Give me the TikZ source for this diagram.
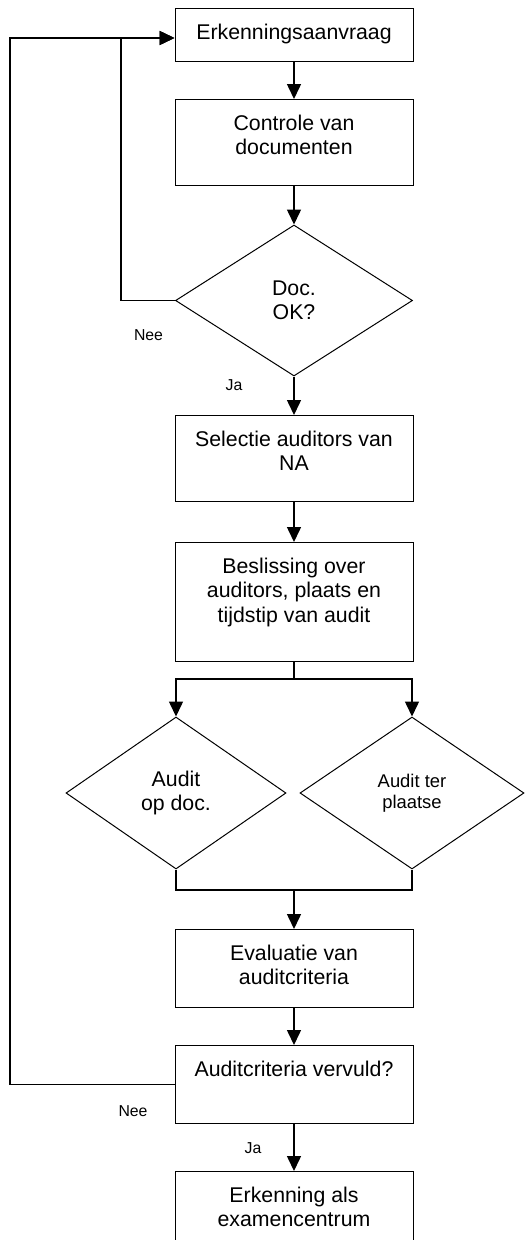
\documentclass[tikz,border=0pt]{standalone}
\usepackage{fontspec}
\setmainfont{Liberation Sans}
\usetikzlibrary{arrows.meta, shapes.geometric, calc}

\begin{document}
\begin{tikzpicture}[x=1pt, y=-1pt, >={Triangle[length=15pt, width=14pt]},
    box/.style={draw, line width=1pt, rectangle, minimum width=238pt, inner xsep=0pt, inner ysep=0pt,
        align=center, text height=30.5pt, anchor=north, font=\fontsize{21.3}{24.5}\selectfont},
    ruit/.style={draw, line width=1pt, diamond, inner sep=0pt, align=center, font=\fontsize{21.3}{24.5}\selectfont},
    lijn/.style={line width=1.5pt},
    pijl/.style={lijn, ->},
    tag/.style={anchor=base, inner sep=0pt, font=\fontsize{15.8}{18}\selectfont}]
    \useasboundingbox (0,0) rectangle (525,1240);
    \def\X{294} % x of the main column

    % === Main column ===
    \node[box, text depth=22.5pt] (req) at (\X,8) {Erkenningsaanvraag};
    \node[box, text height=55pt, text depth=31pt] (ctrl) at (\X,99) {Controle van\\documenten};
    \node[ruit, minimum width=237pt, minimum height=151pt] (doc) at (\X,300.5) {Doc.\\OK?};
    \node[box, text height=55pt, text depth=31pt] (sel) at (\X,415) {Selectie auditors van\\NA};
    \node[box, text height=79.5pt, text depth=39.5pt] (dec) at (\X,542) {Beslissing over\\auditors, plaats en\\tijdstip van audit};

    % Two kinds of audit
    \node[ruit, minimum width=220pt, minimum height=152pt] (adoc) at (176,793) {Audit\\op doc.};
    \node[ruit, minimum width=224pt, minimum height=152pt, font=\fontsize{18.4}{21}\selectfont] (aplace) at (412,793) {Audit ter\\plaatse};

    \node[box, text height=55pt, text depth=23pt] (eval) at (\X,929) {Evaluatie van\\auditcriteria};
    \node[box, text depth=47.5pt] (crit) at (\X,1045) {Auditcriteria vervuld?};
    \node[box, text height=55pt, text depth=23pt] (done) at (\X,1171) {Erkenning als\\examencentrum};

    % Coordinates
    \coordinate (split) at ($(dec.south)+(0,17)$);
    \coordinate (merge) at (\X,890);
    \coordinate (loopA) at (121,38);
    \coordinate (loopB) at (10,38);

    % === Connectors ===
    \draw[pijl] (req) -- (ctrl);
    \draw[pijl] (ctrl) -- (doc);
    \draw[pijl] (doc) -- (sel);
    \draw[pijl] (sel) -- (dec);
    \draw[lijn] (dec.south) -- (split);
    \draw[pijl] (split) -| (adoc.north);
    \draw[pijl] (split) -| (aplace.north);
    \draw[lijn] (adoc.south) |- (merge) -| (aplace.south);
    \draw[pijl] (merge) -- (eval);
    \draw[pijl] (eval) -- (crit);
    \draw[pijl] (crit) -- (done);

    % Loops back (Nee)
    \draw[pijl] (doc.west) -| (loopA) -- (loopA -| req.west);
    \draw[pijl] (crit.west) -| (loopB) -- (loopB -| req.west);

    % Labels
    \node[tag] (nee1) at (148.5,340.7) {Nee};
    \node[tag] (ja1) at (234,390.7) {Ja};
    \node[tag] (nee2) at (133,1116.7) {Nee};
    \node[tag] (ja2) at (253,1153) {Ja};
\end{tikzpicture}
\end{document}
